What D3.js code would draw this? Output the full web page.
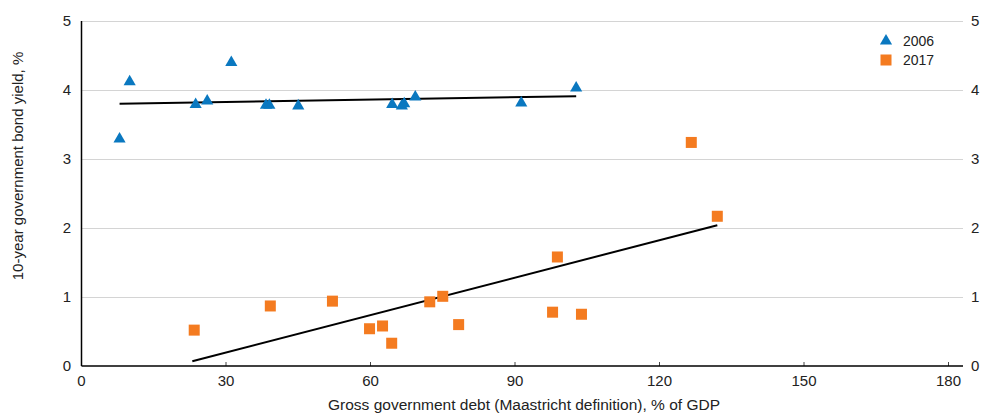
<!DOCTYPE html>
<html>
<head>
<meta charset="utf-8">
<script src="https://cdn.jsdelivr.net/npm/d3@7"></script>
<style>
  body { margin: 0; background: #fff; }
  text { font-family: "Liberation Sans", Arial, sans-serif; fill: #222; }
</style>
</head>
<body>
<script>
// debt (% of GDP) and 10y yield
var debt2006 = [7.9, 10.0, 23.7, 26.1, 31.1, 38.3, 39.0, 45.0, 64.5, 66.5, 67.0, 69.3, 91.3, 102.7];
var yield2006 = [3.29, 4.12, 3.79, 3.84, 4.40, 3.78, 3.78, 3.77, 3.79, 3.77, 3.80, 3.90, 3.81, 4.03];
var debt2017 = [23.4, 39.2, 52.1, 59.8, 62.5, 64.4, 72.3, 75.0, 78.3, 97.8, 98.8, 103.8, 126.6, 132.0];
var yield2017 = [0.52, 0.87, 0.94, 0.54, 0.58, 0.33, 0.93, 1.01, 0.60, 0.78, 1.58, 0.75, 3.24, 2.17];
// trend line end points
var trend2006 = [[7.9, 3.80], [102.7, 3.91]];
var trend2017 = [[23.0, 0.07], [132.0, 2.04]];
var xTicks = [0, 30, 60, 90, 120, 150, 180];
var yTicks = [0, 1, 2, 3, 4, 5];
var seriesNames = ["2006", "2017"];

var width = 985, height = 415;
var blue = "#0a78c0", orange = "#f47b20";

var svg = d3.select("body").append("svg")
    .attr("width", width)
    .attr("height", height);

var x = d3.scaleLinear().domain([0, 180]).range([81.5, 948.5]);
var y = d3.scaleLinear().domain([0, 5]).range([366, 21]);
var gridRight = 963;

// gridlines
svg.append("g").selectAll("line")
    .data(yTicks.filter(function(d) { return d > 0; }))
    .enter().append("line")
    .attr("x1", x(0)).attr("x2", gridRight)
    .attr("y1", function(d) { return Math.round(y(d)) + 0.5; })
    .attr("y2", function(d) { return Math.round(y(d)) + 0.5; })
    .attr("stroke", "#d4d4d4")
    .attr("stroke-width", 1.2);

// left tick labels
svg.append("g").selectAll("text")
    .data(yTicks).enter().append("text")
    .attr("x", 71).attr("y", function(d) { return y(d); })
    .attr("dy", "0.35em")
    .attr("text-anchor", "end")
    .style("font-size", "15px")
    .text(function(d) { return d; });

// right tick labels
svg.append("g").selectAll("text")
    .data(yTicks).enter().append("text")
    .attr("x", 971).attr("y", function(d) { return y(d); })
    .attr("dy", "0.35em")
    .attr("text-anchor", "start")
    .style("font-size", "15px")
    .text(function(d) { return d; });

// x ticks (inside) and labels
svg.append("g").selectAll("line")
    .data(xTicks).enter().append("line")
    .attr("x1", function(d) { return x(d); })
    .attr("x2", function(d) { return x(d); })
    .attr("y1", y(0) - 4).attr("y2", y(0))
    .attr("stroke", "#444");

svg.append("g").selectAll("text")
    .data(xTicks).enter().append("text")
    .attr("x", function(d) { return x(d); })
    .attr("y", 386)
    .attr("text-anchor", "middle")
    .style("font-size", "15px")
    .text(function(d) { return d; });

// axis lines
svg.append("line")
    .attr("x1", x(0)).attr("x2", x(0))
    .attr("y1", y(5)).attr("y2", y(0))
    .attr("stroke", "#000").attr("stroke-width", 1.5);
svg.append("line")
    .attr("x1", x(0)).attr("x2", gridRight)
    .attr("y1", y(0)).attr("y2", y(0))
    .attr("stroke", "#000").attr("stroke-width", 1.5);

// trend lines
var line = d3.line()
    .x(function(d) { return x(d[0]); })
    .y(function(d) { return y(d[1]); });
[trend2006, trend2017].forEach(function(t) {
    svg.append("path")
        .attr("d", line(t))
        .attr("fill", "none")
        .attr("stroke", "#000")
        .attr("stroke-width", 2);
});

var tri = d3.symbol().type(d3.symbolTriangle).size(64);

// 2006 triangles
svg.append("g").selectAll("path")
    .data(d3.range(debt2006.length)).enter().append("path")
    .attr("d", tri)
    .attr("transform", function(i) {
        return "translate(" + x(debt2006[i]) + "," + y(yield2006[i]) + ")";
    })
    .attr("fill", blue);

// 2017 squares
var sq = 11;
svg.append("g").selectAll("rect")
    .data(d3.range(debt2017.length)).enter().append("rect")
    .attr("x", function(i) { return x(debt2017[i]) - sq / 2; })
    .attr("y", function(i) { return y(yield2017[i]) - sq / 2; })
    .attr("width", sq).attr("height", sq)
    .attr("fill", orange);

// legend
var leg = svg.append("g").attr("transform", "translate(886,41)");
leg.append("path").attr("d", tri).attr("fill", blue);
leg.append("rect").attr("x", -5.5).attr("y", 13.5).attr("width", sq).attr("height", sq).attr("fill", orange);
leg.selectAll("text").data(seriesNames).enter().append("text")
    .attr("x", 17).attr("y", function(d, i) { return i * 19; })
    .attr("dy", "0.35em")
    .style("font-size", "14px")
    .text(function(d) { return d; });

// axis titles
svg.append("text")
    .attr("transform", "translate(23,166) rotate(-90)")
    .attr("text-anchor", "middle")
    .style("font-size", "15px")
    .text("10-year government bond yield, %");

svg.append("text")
    .attr("x", 524).attr("y", 410)
    .attr("text-anchor", "middle")
    .style("font-size", "15.5px")
    .text("Gross government debt (Maastricht definition), % of GDP");
</script>
</body>
</html>
